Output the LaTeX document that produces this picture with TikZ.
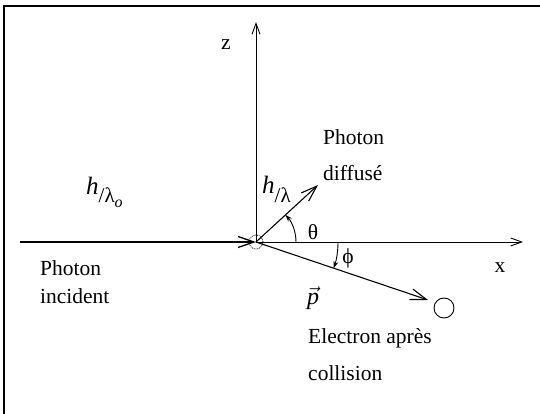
\documentclass[tikz,border=0pt]{standalone}
\usepackage{fontspec}
\setmainfont{Liberation Serif}
\usepackage{tikz}
\usetikzlibrary{arrows.meta}

\begin{document}
\begin{tikzpicture}[x=1pt, y=1pt,
    txt/.style={inner sep=0pt, font=\fontsize{21.5}{25}\selectfont},
    barb/.style={-{Straight Barb[length=11pt, width=8pt]}},
    bigbarb/.style={-{Straight Barb[length=16pt, width=11pt]}},
    arcarrow/.style={-{Stealth[length=7pt, width=5pt]}}]
    \useasboundingbox (0,0) rectangle (540,414);
    \draw[line width=1.2pt] (4,0) -- (4,408) -- (540,408);

    % Axes
    \coordinate (O) at (256,172);
    \coordinate (inc) at (20,172);
    \coordinate (xend) at (523,172);
    \coordinate (zend) at (256,392);
    \draw[line width=0.9pt, barb] (O) -- (xend);
    \draw[line width=0.9pt, barb] (O) -- (zend);
    \draw[line width=1.3pt, bigbarb] (inc) -- (O);
    \node[txt] (zlbl) at (226,369) {z};
    \node[txt] (xlbl) at (500,146) {x};
    \draw[densely dotted, line width=0.8pt] (O) circle (7);

    % Photon diffuse
    \coordinate (ph) at (318,229);
    \draw[line width=1.1pt, bigbarb] (O) -- (ph);
    \draw[line width=0.9pt, arcarrow] ([shift={(0:40)}]O) arc[start angle=0, end angle=42.6, radius=40];
    \node[txt] (theta) at (313,182) {θ};
    \node[txt, anchor=base west] (hlbl) at (262,220) {\fontsize{25}{25}\selectfont\textit{h}\raisebox{-9pt}{\fontsize{21}{21}\selectfont /λ}};
    \node[txt, anchor=west] (phot) at (323,277) {Photon};
    \node[txt, anchor=west] (diff) at (323,241) {diffusé};

    % Electron
    \node[draw, circle, line width=0.9pt, minimum size=20pt, inner sep=0pt] (elec) at (444,106) {};
    \coordinate (el) at (428,114);
    \draw[line width=1.1pt, bigbarb] (O) -- (el);
    \draw[line width=0.9pt, arcarrow] ([shift={(0:82)}]O) arc[start angle=0, end angle=-18.6, radius=82];
    \node[txt] (phi) at (348,156) {ϕ};
    \node[txt] (plbl) at (313,116) {\fontsize{24}{24}\selectfont$\vec{\mbox{\textit{p}}}$};
    \node[txt, anchor=west] (elap) at (308,76) {Electron après};
    \node[txt, anchor=west] (coll) at (308,41) {collision};

    % Photon incident
    \node[txt, anchor=base west] (hlo) at (86,219) {\fontsize{25}{25}\selectfont\textit{h}\raisebox{-8pt}{\fontsize{21}{21}\selectfont /λ\raisebox{-5pt}{\fontsize{16}{16}\selectfont\textit{o}}}};
    \node[txt, anchor=west] (pinc) at (40,146) {Photon};
    \node[txt, anchor=west] (iinc) at (40,118) {incident};
\end{tikzpicture}
\end{document}
